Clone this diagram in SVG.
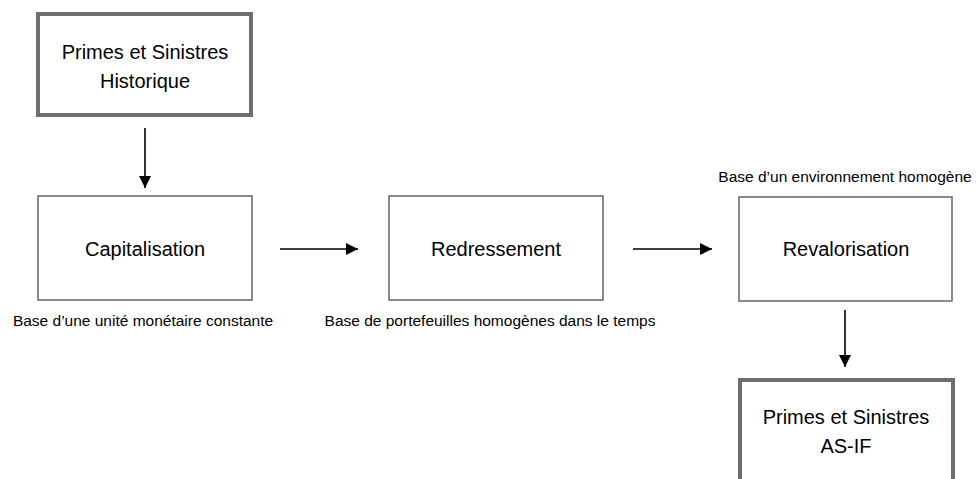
<svg xmlns="http://www.w3.org/2000/svg" width="976" height="479" viewBox="0 0 976 479">
  <style>
    .box { fill: #ffffff; stroke: #6e6e6e; stroke-width: 1.6; }
    .box-key { fill: #ffffff; stroke: #6e6e6e; stroke-width: 4; }
    .label { font-family: "Liberation Sans", Arial, sans-serif; font-size: 20px; fill: #000000; text-anchor: middle; }
    .note { font-family: "Liberation Sans", Arial, sans-serif; font-size: 15.5px; fill: #000000; text-anchor: middle; }
    .edge { stroke: #000000; stroke-width: 1.6; fill: none; marker-end: url(#arrow); }
  </style>
  <defs>
    <marker id="arrow" viewBox="0 0 10 10" refX="10" refY="5" markerWidth="12" markerHeight="12" markerUnits="userSpaceOnUse" orient="auto">
      <path d="M0,0 L10,5 L0,10 z" fill="#000000"/>
    </marker>
  </defs>
  <rect width="976" height="479" fill="#ffffff"/>

  <g id="historique">
    <rect class="box-key" x="38" y="14" width="213" height="101"/>
    <text class="label" x="145" y="59">Primes et Sinistres</text>
    <text class="label" x="145" y="88">Historique</text>
  </g>

  <g id="capitalisation">
    <rect class="box" x="38" y="196" width="214" height="104"/>
    <text class="label" x="145" y="256">Capitalisation</text>
    <text class="note" x="143" y="326">Base d’une unité monétaire constante</text>
  </g>

  <g id="redressement">
    <rect class="box" x="389" y="196" width="214" height="104"/>
    <text class="label" x="496" y="256">Redressement</text>
    <text class="note" x="490" y="326">Base de portefeuilles homogènes dans le temps</text>
  </g>

  <g id="revalorisation">
    <rect class="box" x="739" y="197" width="213" height="104"/>
    <text class="label" x="846" y="256">Revalorisation</text>
    <text class="note" x="845" y="182">Base d’un environnement homogène</text>
  </g>

  <g id="asif">
    <rect class="box-key" x="740" y="380" width="213" height="120"/>
    <text class="label" x="846" y="424">Primes et Sinistres</text>
    <text class="label" x="846" y="453">AS-IF</text>
  </g>

  <g id="connectors">
    <line class="edge" x1="145" y1="128" x2="145" y2="188"/>
    <line class="edge" x1="280" y1="249" x2="358" y2="249"/>
    <line class="edge" x1="633" y1="249" x2="712" y2="249"/>
    <line class="edge" x1="845" y1="310" x2="845" y2="367"/>
  </g>
</svg>
